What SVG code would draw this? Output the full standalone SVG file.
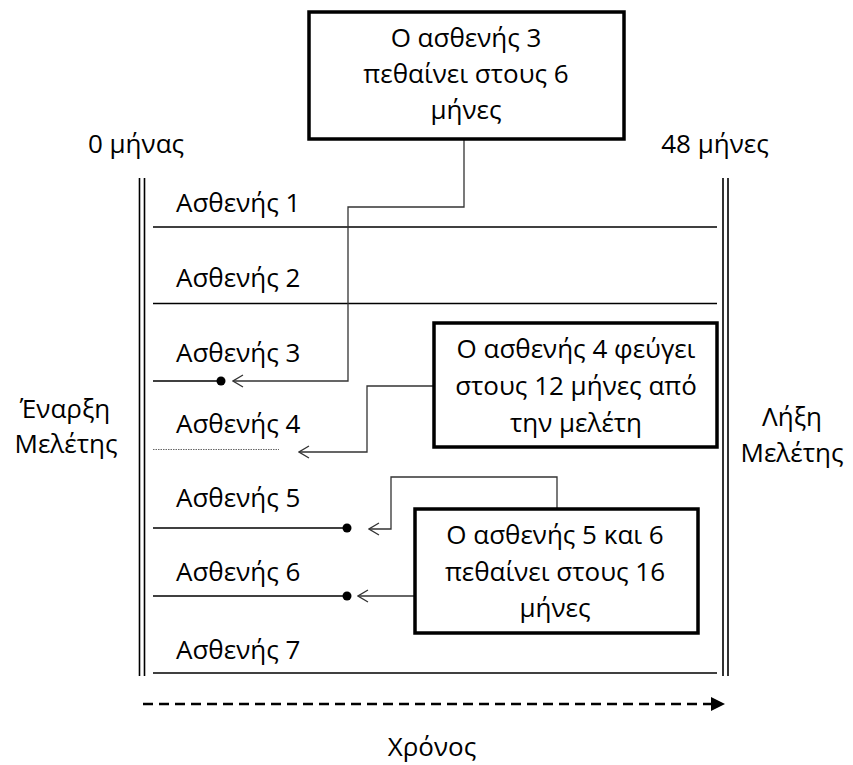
<svg xmlns="http://www.w3.org/2000/svg" width="853" height="765" viewBox="0 0 853 765">
<style>
  text { font-family: "Open Sans", "Noto Sans", "Liberation Sans", sans-serif; font-size: 26px; fill: #000; }
  .c { text-anchor: middle; }
  .box { fill: #fff; stroke: #000; stroke-width: 3.5; }
  .bar { stroke: #000; stroke-width: 1.6; fill: none; }
  .pl { stroke: #000; stroke-width: 1.4; fill: none; }
  .conn { stroke: #333; stroke-width: 1.3; fill: none; }
</style>
<defs>
  <marker id="open" markerUnits="userSpaceOnUse" markerWidth="14" markerHeight="14" viewBox="-12 -7 13 14" refX="0" refY="0" orient="auto">
    <path d="M-10,-6 L0,0 L-10,6" fill="none" stroke="#333" stroke-width="1.3"/>
  </marker>
  <marker id="solid" markerUnits="userSpaceOnUse" markerWidth="16" markerHeight="16" viewBox="0 -8 16 16" refX="0" refY="0" orient="auto">
    <path d="M0,-7 L14,0 L0,7 Z" fill="#000"/>
  </marker>
</defs>

<g id="start-bar">
  <line class="bar" x1="139.5" y1="178" x2="139.5" y2="676"/>
  <line class="bar" x1="144.5" y1="178" x2="144.5" y2="676"/>
</g>
<g id="end-bar">
  <line class="bar" x1="723" y1="178" x2="723" y2="676"/>
  <line class="bar" x1="728" y1="178" x2="728" y2="676"/>
</g>

<g id="labels">
  <text class="c" x="136" y="153">0 μήνας</text>
  <text class="c" x="715" y="153">48 μήνες</text>
  <text class="c" x="65" y="418">Έναρξη</text>
  <text class="c" x="66" y="453">Μελέτης</text>
  <text class="c" x="792" y="426">Λήξη</text>
  <text class="c" x="792" y="462">Μελέτης</text>
  <text class="c" x="432" y="756">Χρόνος</text>
</g>

<g id="patient1">
  <text x="176" y="212">Ασθενής 1</text>
  <line class="pl" x1="153" y1="227" x2="717" y2="227"/>
</g>
<g id="patient2">
  <text x="176" y="287">Ασθενής 2</text>
  <line class="pl" x1="153" y1="303.5" x2="717" y2="303.5"/>
</g>
<g id="patient3">
  <text x="176" y="362">Ασθενής 3</text>
  <line class="pl" x1="153" y1="381" x2="221" y2="381"/>
  <circle cx="221" cy="381" r="4.5" fill="#000"/>
</g>
<g id="patient4">
  <text x="176" y="433">Ασθενής 4</text>
  <line x1="153" y1="449.5" x2="279" y2="449.5" stroke="#666" stroke-width="1" stroke-dasharray="1.5 1"/>
</g>
<g id="patient5">
  <text x="176" y="507">Ασθενής 5</text>
  <line class="pl" x1="153" y1="528" x2="347" y2="528"/>
  <circle cx="347" cy="528" r="4.5" fill="#000"/>
</g>
<g id="patient6">
  <text x="176" y="581">Ασθενής 6</text>
  <line class="pl" x1="153" y1="596" x2="347" y2="596"/>
  <circle cx="347" cy="596" r="4.5" fill="#000"/>
</g>
<g id="patient7">
  <text x="176" y="659">Ασθενής 7</text>
  <line class="pl" x1="153" y1="673" x2="717" y2="673"/>
</g>

<g id="connectors">
  <path class="conn" d="M464,139 V207 H348 V381 H233" marker-end="url(#open)"/>
  <path class="conn" d="M434,386 H367 V452 H299" marker-end="url(#open)"/>
  <path class="conn" d="M557,509 V477 H391 V529 H369" marker-end="url(#open)"/>
  <path class="conn" d="M415,596 H358" marker-end="url(#open)"/>
  <path d="M143,704 H711" stroke="#000" stroke-width="2.5" stroke-dasharray="10 6" fill="none" marker-end="url(#solid)"/>
</g>

<g id="note3">
  <rect class="box" x="309" y="12" width="315" height="127"/>
  <text class="c" x="466" y="47">Ο ασθενής 3</text>
  <text class="c" x="466" y="83">πεθαίνει στους 6</text>
  <text class="c" x="466" y="119">μήνες</text>
</g>
<g id="note4">
  <rect class="box" x="434" y="323" width="283" height="124"/>
  <text class="c" x="576" y="358">Ο ασθενής 4 φεύγει</text>
  <text class="c" x="576" y="395">στους 12 μήνες από</text>
  <text class="c" x="576" y="432">την μελέτη</text>
</g>
<g id="note56">
  <rect class="box" x="415" y="509" width="283" height="124"/>
  <text class="c" x="555" y="544">Ο ασθενής 5 και 6</text>
  <text class="c" x="555" y="581">πεθαίνει στους 16</text>
  <text class="c" x="555" y="617">μήνες</text>
</g>
</svg>
